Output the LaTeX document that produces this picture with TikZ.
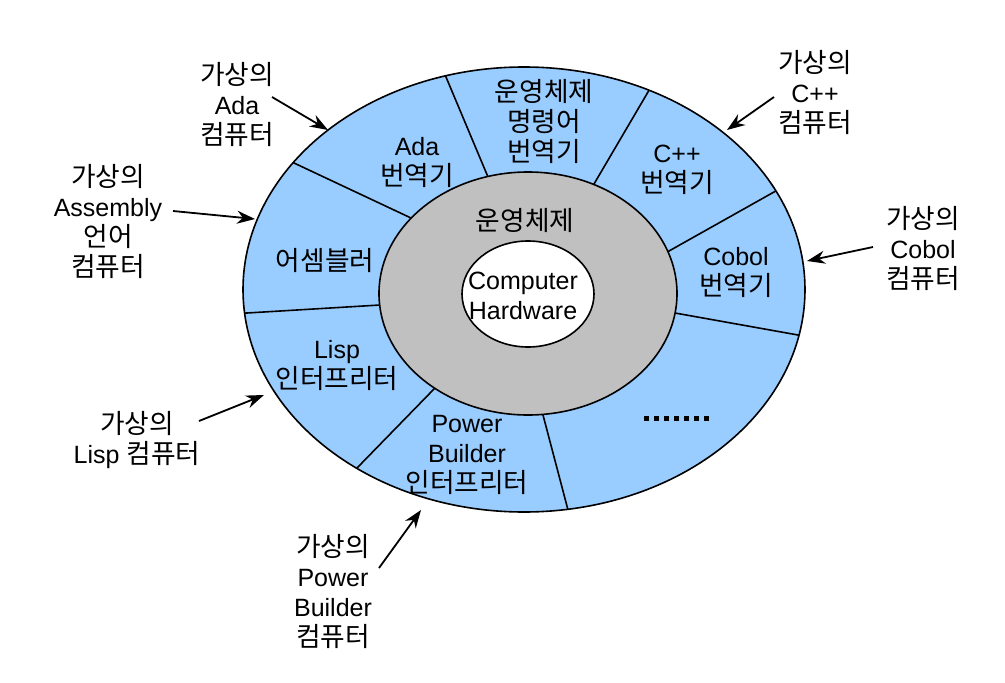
\documentclass[tikz,border=0pt]{standalone}
\usepackage{fontspec}
\setmainfont{Liberation Sans}
\newfontfamily\kr{Noto Sans CJK KR}[Scale=1.07]
\usetikzlibrary{arrows.meta}
\definecolor{ringblue}{HTML}{99CCFF}
\definecolor{osgray}{HTML}{C0C0C0}
\begin{document}
\begin{tikzpicture}[x=1pt,y=-1pt,
  txt/.style={font=\fontsize{25}{30}\selectfont, align=center, inner sep=0pt},
  border/.style={draw=black, line width=1.6pt},
  divider/.style={draw=black, line width=1.6pt, shorten >=-6pt, shorten <=-6pt},
  pointer/.style={draw=black, line width=1.8pt, -{Stealth[length=18pt,width=13pt]}},
  dotrow/.style={draw=black, line width=5pt, dash pattern=on 5pt off 5pt}]
\useasboundingbox (0,0) rectangle (1005,683);

% outer ring
\fill[ringblue] (524,289.5) ellipse [x radius=281pt, y radius=222.5pt];

% dividing lines of the ring
\coordinate (i1) at (488,177); \coordinate (o1) at (446,77);
\coordinate (i2) at (594,184); \coordinate (o2) at (648,92);
\coordinate (i3) at (669,251); \coordinate (o3) at (774,192);
\coordinate (i4) at (675,313); \coordinate (o4) at (798,335);
\coordinate (i5) at (543,415); \coordinate (o5) at (568,510);
\coordinate (i6) at (434,389); \coordinate (o6) at (357,468);
\coordinate (i7) at (380,305); \coordinate (o7) at (247,313);
\coordinate (i8) at (411,218); \coordinate (o8) at (294,163);
\begin{scope}
  \clip (524,289.5) ellipse [x radius=281pt, y radius=222.5pt];
  \foreach \k in {1,...,8} { \draw[divider] (i\k) -- (o\k); }
\end{scope}
\draw[border] (524,289.5) ellipse [x radius=281pt, y radius=222.5pt];

% operating system ring
\filldraw[border, fill=osgray] (528,293.5) ellipse [x radius=149pt, y radius=121.5pt];
% hardware core
\filldraw[border, fill=white] (528,294) ellipse [x radius=66pt, y radius=53pt];

% texts inside
\node[txt] (hw) at (523,296) {Computer\\Hardware};
\node[txt] (os) at (525,220) {\kr 운영체제};
\node[txt] (ada) at (417,162) {Ada\\{\kr 번역기}};
\node[txt] (oscmd) at (544,121) {{\kr 운영체제}\\{\kr 명령어}\\{\kr 번역기}};
\node[txt] (cpp) at (677,170) {C++\\{\kr 번역기}};
\node[txt] (cobol) at (736,272) {Cobol\\{\kr 번역기}};
\node[txt] (asm) at (325,260) {\kr 어셈블러};
\node[txt] (lisp) at (337,365) {Lisp\\{\kr 인터프리터}};
\node[txt] (pb) at (467,455) {Power\\Builder\\{\kr 인터프리터}};
\coordinate (d1) at (644,418);
\coordinate (d2) at (709,418);
\draw[dotrow] (d1) -- (d2);

% outside labels
\node[txt] (vAda) at (237,104) {{\kr 가상의}\\Ada\\{\kr 컴퓨터}};
\node[txt] (vAsm) at (108,221) {{\kr 가상의}\\Assembly\\{\kr 언어}\\{\kr 컴퓨터}};
\node[txt] (vLisp) at (137,440) {{\kr 가상의}\\Lisp {\kr 컴퓨터}};
\node[txt] (vPB) at (333,591) {{\kr 가상의}\\Power\\Builder\\{\kr 컴퓨터}};
\node[txt] (vCpp) at (815,92) {{\kr 가상의}\\C++\\{\kr 컴퓨터}};
\node[txt] (vCobol) at (923,248) {{\kr 가상의}\\Cobol\\{\kr 컴퓨터}};

% arrows
\coordinate (sAda) at (272,97);   \coordinate (tAda) at (328,130);
\coordinate (sAsm) at (173,211);  \coordinate (tAsm) at (255,219);
\coordinate (sLisp) at (199,421); \coordinate (tLisp) at (264,395);
\coordinate (sPB) at (379,568);   \coordinate (tPB) at (421,510);
\coordinate (sCpp) at (774,97);   \coordinate (tCpp) at (727,130);
\coordinate (sCobol) at (873,247);\coordinate (tCobol) at (807,261);
\draw[pointer] (sAda) -- (tAda);
\draw[pointer] (sAsm) -- (tAsm);
\draw[pointer] (sLisp) -- (tLisp);
\draw[pointer] (sPB) -- (tPB);
\draw[pointer] (sCpp) -- (tCpp);
\draw[pointer] (sCobol) -- (tCobol);
\end{tikzpicture}
\end{document}
